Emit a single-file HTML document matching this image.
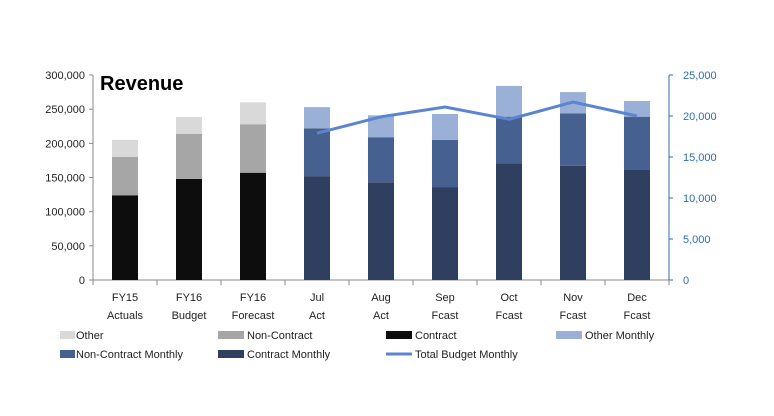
<!DOCTYPE html>
<html><head><meta charset="utf-8"><style>
body{margin:0;background:#fff;font-family:"Liberation Sans",sans-serif}
svg text{font-family:"Liberation Sans",sans-serif;font-size:11px;fill:#222}
</style></head><body>
<svg width="774" height="411">
<rect width="774" height="411" fill="#fff"/>
<g id="axes"></g><g id="bars"></g><g id="line"></g><g id="legend"></g>
<text x="100" y="90" style="font-size:20px;font-weight:bold;fill:#000">Revenue</text>
</svg>
<script>
const cats1=["FY15","FY16","FY16","Jul","Aug","Sep","Oct","Nov","Dec"];
const cats2=["Actuals","Budget","Forecast","Act","Act","Fcast","Fcast","Fcast","Fcast"];
const contract=[124000,148000,157000,152000,143000,136000,171000,167000,161000];
const nonContract=[56000,66000,71000,70000,66000,69000,68000,77000,78000];
const other=[25000,24500,32000,31000,32000,38000,45000,31000,23000];
const totalBudget=[null,null,null,17900,19900,21100,19600,21700,20000];
const leftTicks=[0,50000,100000,150000,200000,250000,300000];
const rightTicks=[0,5000,10000,15000,20000,25000];
const NS="http://www.w3.org/2000/svg";
const X0=93,X1=669,Y0=280,Y1=75;
const step=(X1-X0)/cats1.length;
const xc=i=>X0+step*(i+0.5);
const yL=v=>Y0-(v/300000)*(Y0-Y1);
const yR=v=>Y0-(v/25000)*(Y0-Y1);
function el(t,a,p){const e=document.createElementNS(NS,t);for(const k in a)e.setAttribute(k,a[k]);p.appendChild(e);return e;}
const fmt=v=>v.toLocaleString('en-US');
const ax=document.getElementById('axes');
let e=el('line',{x1:X0,x2:X0,y1:Y1,y2:Y0,stroke:'#888'},ax);

e=el('line',{x1:X0,x2:X1,y1:Y0,y2:Y0,stroke:'#888'},ax);

e=el('line',{x1:X1,x2:X1,y1:Y1,y2:Y0,stroke:'#2e6db4'},ax);

leftTicks.forEach(v=>{el('line',{x1:X0-4,x2:X0,y1:yL(v),y2:yL(v),stroke:'#888'},ax);
 const t=el('text',{x:X0-8,y:yL(v)+4,'text-anchor':'end'},ax);t.textContent=fmt(v);
 });
rightTicks.forEach(v=>{el('line',{x1:X1,x2:X1+4,y1:yR(v),y2:yR(v),stroke:'#2e6db4'},ax);
 const t=el('text',{x:X1+14,y:yR(v)+4,style:'fill:#2e6db4'},ax);t.textContent=fmt(v);
 });
for(let i=0;i<=cats1.length;i++)el('line',{x1:X0+step*i,x2:X0+step*i,y1:Y0,y2:Y0+5,stroke:'#888'},ax);
cats1.forEach((c,i)=>{let t=el('text',{x:xc(i),y:301,'text-anchor':'middle'},ax);t.textContent=c;
 
 t=el('text',{x:xc(i),y:319,'text-anchor':'middle'},ax);t.textContent=cats2[i];
 });
const bars=document.getElementById('bars');const bw=26;
cats1.forEach((c,i)=>{const m=i>=3;
 const segs=[[contract[i],m?'#2f3f5f':'#0d0d0d','contract'],[nonContract[i],m?'#46618f':'#a6a6a6','non-contract'],[other[i],m?'#9bb0d6':'#d9d9d9','other']];
 let base=0;segs.forEach(s=>{const r=el('rect',{x:xc(i)-bw/2,y:yL(base+s[0]),width:bw,height:yL(base)-yL(base+s[0]),fill:s[1]},bars);
 base+=s[0];});});
const pts=[];totalBudget.forEach((v,i)=>{if(v!=null)pts.push(xc(i)+','+yR(v));});
e=el('polyline',{points:pts.join(' '),fill:'none',stroke:'#5b85d0','stroke-width':3},document.getElementById('line'));

const lg=document.getElementById('legend');
const items=[["Other","#d9d9d9",60,335,0],["Non-Contract","#a6a6a6",218,335,0],["Contract","#0d0d0d",386,335,0],["Other Monthly","#9bb0d6",556,335,0],
["Non-Contract Monthly","#46618f",60,354,0],["Contract Monthly","#2f3f5f",218,354,0],["Total Budget Monthly","#5b85d0",386,354,1]];
items.forEach(it=>{const g=el('g',{},lg);
 if(it[4])el('rect',{x:it[2],y:it[3]-1.5,width:26,height:3,fill:it[1]},g);
 else el('rect',{x:it[2],y:it[3]-4,width:it[2]==60?15:26,height:8,fill:it[1]},g);
 const t=el('text',{x:it[2]+(it[2]==60?16:29),y:it[3]+4},g);t.textContent=it[0];});
</script>
</body></html>
